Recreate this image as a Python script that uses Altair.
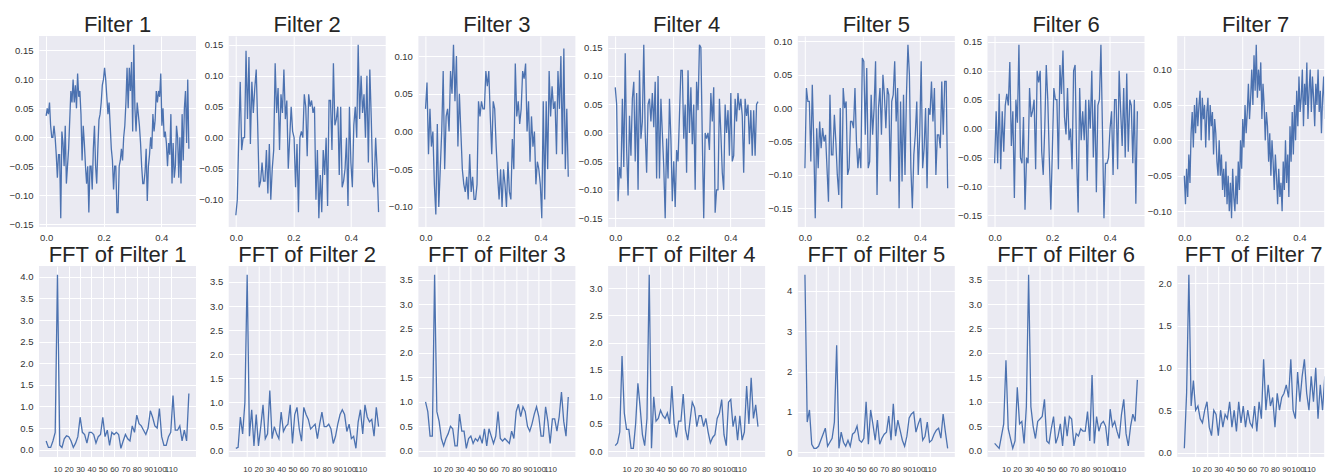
import altair as alt
import numpy as np
import pandas as pd

# ---------------- data ----------------
FILTER_NAMES = ["Filter 1", "Filter 2", "Filter 3", "Filter 4", "Filter 5", "Filter 6", "Filter 7"]

SIG1 = [0.037, 0.05, 0.04, 0.06, 0.02, 0.0, 0.0, 0.02, 0.0, -0.03,
        -0.07, -0.03, -0.03, -0.14, 0.01, -0.01, -0.05, 0.02, -0.08, -0.05,
        -0.02, 0.03, 0.08, 0.06, 0.10, 0.06, 0.09, 0.05, 0.11, 0.07,
        0.08, 0.04, -0.04, 0.02, -0.01, -0.05, -0.08, -0.05, -0.13, -0.05,
        -0.05, -0.09, -0.02, 0.02, -0.05, -0.08, -0.02, 0.03, 0.04, 0.06,
        0.09, 0.10, 0.12, 0.10, 0.07, 0.04, 0.06, 0.02, -0.02, -0.04,
        -0.09, -0.05, -0.05, -0.13, -0.13, -0.05, -0.04, -0.02, -0.04, 0.00,
        0.02, 0.06, 0.12, 0.05, 0.12, 0.08, 0.13, 0.01, 0.16, 0.05,
        0.01, 0.06, 0.04, 0.02, -0.01, -0.05, -0.08, -0.08, -0.06, -0.02,
        -0.11, -0.05, -0.03, 0.00, -0.02, 0.04, 0.01, 0.03, 0.08, 0.06,
        0.08, 0.07, 0.11, 0.02, 0.05, 0.00, 0.01, -0.01, -0.05, -0.01,
        -0.03, 0.04, -0.08, -0.01, -0.07, -0.05, 0.02, 0.00, -0.07, 0.00,
        -0.08, 0.04, -0.04, 0.05, 0.08, -0.01, 0.10, -0.02]
SIG2 = [-0.125, -0.10, 0.0, 0.09, -0.02, 0.0, 0.0, 0.14, 0.03, 0.13,
        -0.01, 0.09, 0.04, 0.08, 0.11, 0.02, -0.08, -0.07, -0.04, -0.07,
        -0.07, -0.02, -0.09, -0.01, -0.10, -0.05, -0.02, 0.12, 0.04, 0.08,
        -0.02, 0.07, 0.04, 0.11, 0.03, 0.06, -0.05, 0.0, 0.05, 0.01,
        0.0, -0.08, -0.01, -0.12, 0.0, 0.01, 0.0, 0.07, 0.05, -0.03,
        0.07, 0.05, 0.06, 0.04, 0.05, -0.10, -0.02, -0.13, -0.06, -0.12,
        -0.02, -0.06, 0.0, -0.11, 0.06, 0.06, -0.02, 0.12, 0.02, 0.03,
        0.05, -0.06, 0.05, -0.08, -0.07, -0.05, 0.0, -0.11, 0.05, -0.04,
        -0.08, 0.02, 0.05, 0.0, 0.15, 0.03, 0.10, 0.04, 0.07, 0.0,
        0.10, -0.04, 0.11, 0.03, -0.07, -0.08, 0.0, -0.05, -0.12]
SIG3 = [0.03, 0.065, -0.03, 0.03, -0.02, 0.0, -0.07, -0.11, 0.01, -0.10,
        -0.05, 0.00, 0.08, -0.05, 0.02, 0.03, 0.0, 0.08, 0.05, 0.115,
        0.04, 0.10, -0.02, 0.05, 0.0, -0.05, -0.07, -0.08, -0.06, -0.09,
        -0.03, -0.08, -0.06, -0.09, -0.09, -0.07, 0.04, 0.02, 0.04, 0.03,
        0.03, 0.08, 0.06, 0.08, 0.02, -0.03, 0.04, 0.03, -0.02, -0.06,
        -0.09, -0.05, -0.10, -0.05, -0.07, -0.10, -0.04, -0.08, -0.09, -0.01,
        -0.05, 0.09, 0.02, 0.04, 0.01, 0.03, 0.08, 0.07, 0.09, 0.00,
        0.04, -0.04, 0.02, -0.02, 0.0, -0.07, -0.04, -0.05, -0.07, -0.115,
        0.04, -0.09, 0.04, -0.05, 0.08, 0.02, 0.06, 0.03, 0.04, -0.03,
        0.08, 0.03, 0.10, -0.03, 0.11, -0.05, 0.03, -0.06]
SIG4 = [0.08, 0.05, -0.12, -0.06, -0.08, 0.06, -0.06, 0.14, -0.03, -0.11,
        0.03, -0.04, 0.06, 0.09, -0.05, 0.07, -0.10, 0.11, -0.01, 0.02,
        0.155, 0.0, -0.07, 0.05, 0.06, 0.02, 0.07, 0.01, 0.09, -0.08,
        0.10, -0.08, 0.06, 0.0, -0.06, -0.15, -0.01, -0.08, 0.06, -0.01,
        -0.12, -0.05, -0.13, -0.03, -0.05, 0.03, 0.11, 0.11, -0.01, 0.05,
        -0.07, 0.11, 0.0, 0.08, -0.02, 0.05, -0.10, 0.09, 0.04, 0.155,
        0.15, -0.01, -0.15, 0.00, -0.01, 0.00, -0.03, 0.07, 0.02, 0.08,
        -0.14, -0.10, -0.10, 0.06, 0.00, -0.07, -0.10, 0.05, 0.0, 0.04,
        -0.04, 0.07, -0.05, -0.04, 0.06, 0.02, 0.07, 0.04, 0.06, 0.03,
        -0.07, 0.06, 0.03, 0.05, -0.02, 0.04, -0.04, 0.04, -0.04, 0.05, 0.055]
SIG5 = [-0.09, 0.03, 0.01, 0.01, -0.08, 0.035, -0.05, -0.165, -0.03, -0.09,
        -0.02, -0.06, -0.03, -0.05, -0.04, -0.09, -0.14, 0.02, -0.07, -0.07,
        -0.01, -0.05, -0.10, -0.13, 0.00, -0.15, 0.03, 0.00, 0.01, -0.10,
        -0.09, -0.02, -0.02, -0.03, 0.03, -0.05, -0.09, -0.06, -0.09, 0.075,
        0.07, -0.04, 0.06, -0.09, -0.08, 0.02, -0.04, 0.00, 0.07, -0.13,
        0.00, 0.03, -0.04, 0.05, 0.02, -0.03, 0.03, 0.02, -0.11, 0.01,
        0.02, 0.07, -0.02, 0.03, -0.15, 0.01, -0.11, 0.02, -0.10, 0.02,
        0.095, 0.05, -0.09, -0.15, -0.07, -0.04, 0.01, -0.10, -0.04, 0.07,
        -0.09, -0.06, 0.00, -0.12, 0.00, -0.01, 0.04, -0.02, 0.03, -0.10,
        -0.04, -0.04, -0.06, 0.04, -0.04, 0.04, 0.04, -0.12]
SIG6 = [-0.06, 0.03, -0.06, 0.06, -0.07, 0.03, -0.04, 0.04, 0.06, 0.04,
        0.115, -0.03, 0.03, -0.12, 0.05, 0.01, 0.145, -0.05, -0.06, 0.02,
        -0.14, -0.05, -0.06, 0.07, 0.02, 0.03, 0.05, -0.07, 0.10, 0.08,
        0.10, -0.04, -0.08, 0.00, 0.11, 0.05, -0.05, -0.14, -0.04, 0.07,
        0.05, 0.05, -0.07, 0.11, 0.06, 0.135, 0.02, -0.01, 0.07, -0.02,
        0.00, -0.07, 0.10, 0.11, -0.05, -0.145, 0.07, -0.02, 0.03, -0.02,
        0.05, -0.09, 0.05, 0.00, 0.10, -0.05, 0.05, -0.11, 0.04, 0.05,
        0.145, 0.00, -0.155, -0.06, -0.06, -0.05, 0.00, 0.03, -0.08, 0.05,
        0.05, -0.07, 0.10, 0.03, -0.03, 0.07, -0.05, 0.095, -0.04, 0.05,
        0.04, -0.06, 0.05, -0.13, 0.03]
SIG7 = [-0.05, -0.09, -0.04, -0.08, -0.02, -0.06, 0.01,
        0.04, -0.01, 0.05, 0.01, 0.06, 0.02, 0.05, 0.07, 0.0, 0.06, 0.03, 0.05, -0.01,
        0.04, 0.06, 0.0, 0.05, 0.02, 0.04, -0.02, 0.03, 0.01,
        -0.03, -0.05, 0.0, -0.05, -0.02, -0.07, -0.04, -0.08, -0.03, -0.09,
        -0.05, -0.10, -0.06, -0.11, -0.04, -0.08, -0.10, -0.05, -0.09,
        -0.03, -0.07, 0.0, -0.04, 0.03, -0.01, 0.05, 0.01, 0.04, 0.08,
        0.03, 0.06, 0.10, 0.05, 0.12, 0.07, 0.135, 0.06, 0.10, 0.07, 0.11, 0.03, 0.08,
        0.05, 0.00, 0.04, 0.02, -0.03, 0.01, -0.05, 0.0, -0.03, -0.07, -0.02, -0.05,
        -0.09, -0.04, -0.08, -0.06, -0.10, -0.03, -0.07, 0.0, -0.06, -0.02,
        -0.08, 0.02, -0.03, 0.04,
        -0.02, 0.05, 0.0, 0.07, 0.02, 0.09, 0.04, 0.06, 0.10, 0.02, 0.08, 0.05,
        0.11, 0.03, 0.07, 0.10, 0.04, 0.09, 0.06, 0.02, 0.08, 0.05, 0.10, 0.04,
        0.07, 0.01, 0.06, 0.09, 0.03, 0.07, 0.05]

FFT1 = [0.2, 0.05, 0.05, 0.2, 0.4, 4.05, 0.1, 0.05, 0.25, 0.32, 0.3, 0.2, 0.05, 0.15, 0.3, 0.75,
        0.4, 0.35, 0.15, 0.4, 0.4, 0.35, 0.15, 0.3, 0.35, 0.75, 0.3, 0.45, 0.1, 0.4, 0.35, 0.4,
        0.35, 0.03, 0.2, 0.35, 0.25, 0.2, 0.55, 0.4, 0.8, 0.6, 0.55, 0.45, 0.35, 0.5, 0.9, 0.75,
        0.55, 0.5, 0.95, 0.3, 0.1, 0.1, 0.3, 0.4, 1.25, 0.45, 0.45, 0.55, 0.2, 0.45, 0.2, 1.3]
FFT2 = [0.05, 0.07, 0.7, 0.35, 1.0, 3.65, 0.3, 0.85, 0.1, 0.75, 0.1, 0.5, 0.95, 0.25, 0.35, 1.25,
        0.25, 0.5, 0.35, 0.25, 0.8, 0.4, 0.5, 0.55, 0.95, 0.15, 0.75, 0.9, 0.45, 0.2, 0.9, 0.75,
        0.65, 0.45, 0.5, 0.55, 0.25, 0.55, 0.8, 0.5, 0.5, 0.55, 0.45, 0.15, 0.3, 0.55, 0.75, 0.85,
        0.75, 0.4, 0.55, 0.25, 0.3, 0.05, 0.6, 0.85, 0.35, 0.95, 0.7, 0.6, 0.65, 0.3, 0.9, 0.5]
FFT3 = [1.0, 0.8, 0.3, 0.3, 3.6, 0.8, 0.6, 0.25, 0.1, 0.25, 0.35, 0.5, 0.45, 0.1, 0.1, 0.75,
        0.4, 0.4, 0.05, 0.25, 0.3, 0.15, 0.25, 0.2, 0.3, 0.15, 0.45, 0.1, 0.45, 0.3, 0.15, 0.3,
        0.8, 0.25, 0.2, 0.25, 0.2, 0.15, 0.4, 0.25, 0.8, 0.95, 0.7, 0.9, 0.8, 0.5, 0.4, 0.55,
        0.75, 0.9, 0.7, 0.3, 0.3, 0.9, 0.6, 0.15, 0.65, 0.65, 0.4, 0.7, 1.2, 0.6, 0.3, 1.1]
FFT4 = [0.1, 0.15, 0.35, 1.75, 0.7, 0.4, 0.4, 0.05, 0.05, 0.5, 1.25, 0.8, 0.3, 0.1, 0.6, 3.25,
        0.05, 1.0, 0.55, 0.6, 0.75, 0.65, 0.6, 0.7, 0.5, 1.2, 0.5, 0.25, 0.55, 0.55, 1.05, 0.4,
        0.2, 0.55, 0.9, 0.8, 0.45, 0.65, 0.65, 0.45, 0.6, 0.35, 0.15, 0.25, 0.3, 0.6, 0.7, 0.95,
        0.3, 0.1, 0.9, 0.95, 0.45, 0.65, 0.2, 0.65, 0.2, 0.35, 1.2, 0.5, 1.35, 0.6, 0.85, 0.45]
FFT5 = [4.4, 0.75, 1.05, 0.2, 0.1, 0.1, 0.15, 0.3, 0.45, 0.6, 0.15, 0.25, 0.35, 0.75, 2.65, 0.1,
        0.5, 0.25, 0.15, 0.3, 0.15, 0.45, 0.5, 0.65, 0.3, 0.25, 0.35, 1.25, 0.2, 1.05, 0.7, 0.3,
        0.8, 0.2, 0.35, 0.45, 0.5, 0.9, 0.3, 1.2, 0.4, 0.8, 0.55, 0.3, 0.15, 0.4, 0.85, 0.95,
        1.0, 0.5, 0.7, 0.85, 0.3, 0.4, 0.75, 0.25, 0.3, 0.45, 0.55, 0.6, 0.35, 0.95, 0.5, 0.1]
FFT6 = [0.15, 0.1, 0.05, 0.3, 0.55, 1.85, 0.45, 0.25, 0.05, 0.2, 1.3, 0.55, 0.6, 0.15, 0.9, 3.6,
        0.9, 0.5, 0.25, 0.6, 0.65, 0.7, 1.05, 0.2, 0.15, 0.45, 0.7, 0.15, 0.3, 0.55, 0.1, 0.7,
        0.3, 0.7, 0.65, 0.1, 0.35, 0.3, 0.45, 0.4, 0.4, 0.8, 0.2, 1.55, 0.15, 0.7, 0.4, 0.55,
        0.6, 0.5, 0.1, 0.85, 0.5, 0.6, 0.4, 0.25, 0.75, 1.05, 0.35, 0.1, 0.5, 0.75, 0.6, 1.45]
FFT7 = [0.05, 0.7, 2.1, 0.55, 0.85, 0.5, 0.55, 0.4, 0.35, 0.5, 0.6, 0.3, 0.2, 0.5, 0.45, 0.2,
        0.5, 0.3, 0.45, 0.4, 0.6, 0.3, 0.5, 0.25, 0.6, 0.35, 0.55, 0.3, 0.5, 0.35, 0.3, 0.55,
        0.25, 0.6, 0.4, 1.1, 0.5, 0.8, 0.55, 0.65, 0.3, 0.7, 0.5, 0.65, 0.7, 0.8, 0.65, 1.1,
        0.5, 0.4, 0.95, 0.6, 0.9, 1.1, 0.7, 0.5, 0.9, 0.6, 1.0, 0.4, 0.8, 0.5, 0.9, 0.6]

SIGNALS = [SIG1, SIG2, SIG3, SIG4, SIG5, SIG6, SIG7]
FFTS = [FFT1, FFT2, FFT3, FFT4, FFT5, FFT6, FFT7]
FFT_YSTEP = [0.5, 0.5, 0.5, 0.5, 1.0, 0.5, 0.5]

TIME_END = 0.496      # last sample (128 samples at 256 Hz)
FREQ_STEP = 2         # Hz between FFT bins
TIME_TICKS = [0.0, 0.2, 0.4]
FREQ_TICKS = [10, 20, 30, 40, 50, 60, 70, 80, 90, 100, 110]

# ---------------- style / layout ----------------
LINE = "#4C72B0"
BG = "#EAEAF2"
FONT = "Liberation Sans"
PW = 157          # plot width
PW_LAST = 147     # last column is cut by the picture edge
PH = 191          # plot height


def pad_domain(vals, frac=0.05):
    lo, hi = min(vals), max(vals)
    r = hi - lo
    return [lo - frac * r, hi + frac * r]


def tick_values(dom, step):
    k0 = int(np.ceil(dom[0] / step - 1e-9))
    k1 = int(np.floor(dom[1] / step + 1e-9))
    return [round(k * step, 6) + 0.0 for k in range(k0, k1 + 1)]


def panel(xs, ys, title, xdom, xticks, xfmt, xlab_size, xlab_pad, ystep, yfmt, width, title_dx=0):
    df = pd.DataFrame({"x": xs, "y": ys})
    ydom = pad_domain(ys)
    return alt.Chart(df).mark_line(color=LINE, strokeWidth=1.3, clip=True).encode(
        x=alt.X("x:Q", scale=alt.Scale(domain=xdom, nice=False, zero=False),
                axis=alt.Axis(values=xticks, format=xfmt, title=None, labelFontSize=xlab_size,
                              labelPadding=xlab_pad, labelOverlap=False, labelFlush=False,
                              labelBound=False)),
        y=alt.Y("y:Q", scale=alt.Scale(domain=ydom, nice=False, zero=False),
                axis=alt.Axis(values=tick_values(ydom, ystep), format=yfmt, title=None,
                              labelFontSize=9.5, labelPadding=6, labelOverlap=False)),
    ).properties(
        width=width, height=PH,
        title=alt.TitleParams(title, fontSize=22, font=FONT, fontWeight="normal", color="#262626",
                              offset=-18, baseline="alphabetic", anchor="middle", dx=title_dx),
    )


top, bottom = [], []
for i in range(7):
    last = i == 6
    w = PW_LAST if last else PW
    # time-domain panel
    sig = SIGNALS[i]
    t = np.linspace(0, TIME_END, len(sig))
    tdom = [-0.05 * TIME_END, 1.05 * TIME_END]
    if last:
        tdom = [tdom[0], tdom[0] + (tdom[1] - tdom[0]) * PW_LAST / PW]
    top.append(panel(t, sig, FILTER_NAMES[i], tdom, TIME_TICKS, ".1f", 9.5, 5,
                     0.05, ".2f", w, title_dx=5 if last else 0))
    # spectrum panel
    spec = FFTS[i]
    f = np.arange(len(spec)) * FREQ_STEP
    fmax = f[-1]
    fdom = [-0.05 * fmax, 1.05 * fmax]
    if last:
        fdom = [fdom[0], fdom[0] + (fdom[1] - fdom[0]) * PW_LAST / PW]
    ystep = FFT_YSTEP[i]
    bottom.append(panel(f, spec, "FFT of " + FILTER_NAMES[i], fdom, FREQ_TICKS, "d", 8, 8,
                        ystep, ".0f" if ystep >= 1 else ".1f", w, title_dx=3 if last else 0))

chart = alt.concat(*top, *bottom, columns=7, spacing={"row": 39, "column": 32.7}).properties(
    bounds="flush",
    align="each",
    background="white",
    padding={"left": 8, "top": 14, "right": 0, "bottom": 0},
).configure_view(
    fill=BG, stroke=None,
).configure_axis(
    domain=False, ticks=False, gridColor="white", gridWidth=1, gridOpacity=1,
    labelColor="#333333", labelFont=FONT,
)

chart.save("out.html", embed_options={"renderer": "svg", "actions": False})
